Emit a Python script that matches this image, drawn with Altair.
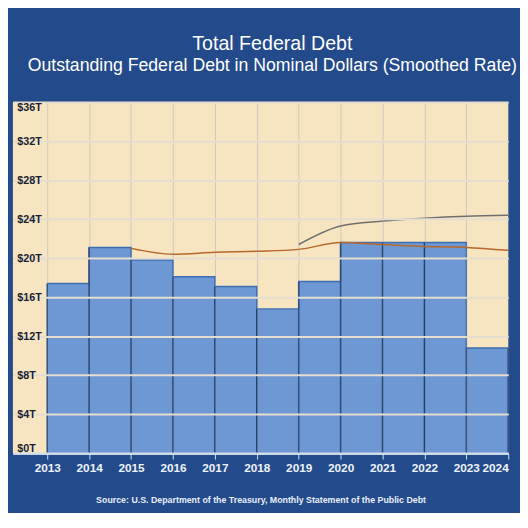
import pandas as pd
import altair as alt

# yearly columns (step area), trillions of dollars
years = [2013, 2014, 2015, 2016, 2017, 2018, 2019, 2020, 2021, 2022, 2023, 2024]
debt = [17.4, 21.1, 19.8, 18.1, 17.1, 14.8, 17.6, 21.6, 21.6, 21.6, 10.8, 10.8]

# smoothed rate line (brown)
smooth_years = [2015, 2016, 2017, 2018, 2019, 2020, 2021, 2022, 2023, 2024]
smooth = [21.0, 20.4, 20.6, 20.7, 20.9, 21.6, 21.4, 21.2, 21.1, 20.8]

# limit line (gray)
limit_years = [2019, 2020, 2021, 2022, 2023, 2024]
limit = [21.4, 23.3, 23.8, 24.1, 24.3, 24.4]

y_ticks = [0, 4, 8, 12, 16, 20, 24, 28, 32, 36]

debt_df = pd.DataFrame({'year': years, 'value': debt})
smooth_df = pd.DataFrame({'year': smooth_years, 'value': smooth})
limit_df = pd.DataFrame({'year': limit_years, 'value': limit})

x_enc = alt.X(
    'year:Q',
    scale=alt.Scale(domain=[2012.18, 2024], nice=False, zero=False),
    axis=alt.Axis(
        values=years, format='d', grid=True, gridColor='#7f93b4', gridOpacity=0.35,
        domainColor='#d3deee', domainWidth=2, tickColor='#d3deee', tickSize=6,
        labelColor='#eef3fb', labelFontSize=12, labelFontWeight='bold', labelPadding=4,
        labelFlush=True, labelOverlap=False, labelFont='Liberation Sans', zindex=1,
        title='Source: U.S. Department of the Treasury, Monthly Statement of the Public Debt',
        titleColor='#e8eef8', titleFontSize=9, titleFontWeight='bold', titlePadding=22,
        titleFont='Liberation Sans'
    )
)

y_enc = alt.Y(
    'value:Q',
    scale=alt.Scale(domain=[0, 36], nice=False),
    axis=alt.Axis(
        values=y_ticks, labelExpr="'$' + datum.value + 'T'", ticks=False, domain=False,
        gridColor='#e4ddd0', gridWidth=2, labelAlign='left', labelPadding=-4,
        labelColor='#1a1f33', labelFontSize=11, labelFontWeight='bold',
        labelFont='Liberation Sans', labelFlush=True, labelOverlap=False,
        title=None, zindex=1
    )
)

area = alt.Chart(debt_df).mark_area(
    interpolate='step-after', color='#6d98d4', opacity=1,
    line={'color': '#3e6cb0', 'strokeWidth': 1.5}
).encode(x=x_enc, y=y_enc)

columns = alt.Chart(debt_df).mark_rule(color='#1f3d70', strokeWidth=1.5).encode(
    x=x_enc, y=y_enc, y2=alt.datum(0)
)

smooth_line = alt.Chart(smooth_df).mark_line(
    color='#b8672a', strokeWidth=1.5, interpolate='monotone'
).encode(x=x_enc, y=y_enc)

limit_line = alt.Chart(limit_df).mark_line(
    color='#6f6f6f', strokeWidth=1.5, interpolate='monotone'
).encode(x=x_enc, y=y_enc)

chart = alt.layer(area, columns, smooth_line, limit_line).properties(
    width=505,
    height=358,
    padding={'left': 5, 'right': 2, 'top': 22, 'bottom': 4},
    background='#234a8a',
    title=alt.TitleParams(
        text='Total Federal Debt',
        subtitle='Outstanding Federal Debt in Nominal Dollars (Smoothed Rate)',
        color='#ffffff', subtitleColor='#ffffff',
        fontSize=20, subtitleFontSize=18, fontWeight='normal',
        font='Liberation Sans', subtitleFont='Liberation Sans',
        subtitlePadding=3, offset=28, anchor='middle', dx=12
    )
).configure_view(fill='#f7e5c2', strokeWidth=0)

chart.save("out.html", embed_options={"renderer": "svg", "actions": False})
